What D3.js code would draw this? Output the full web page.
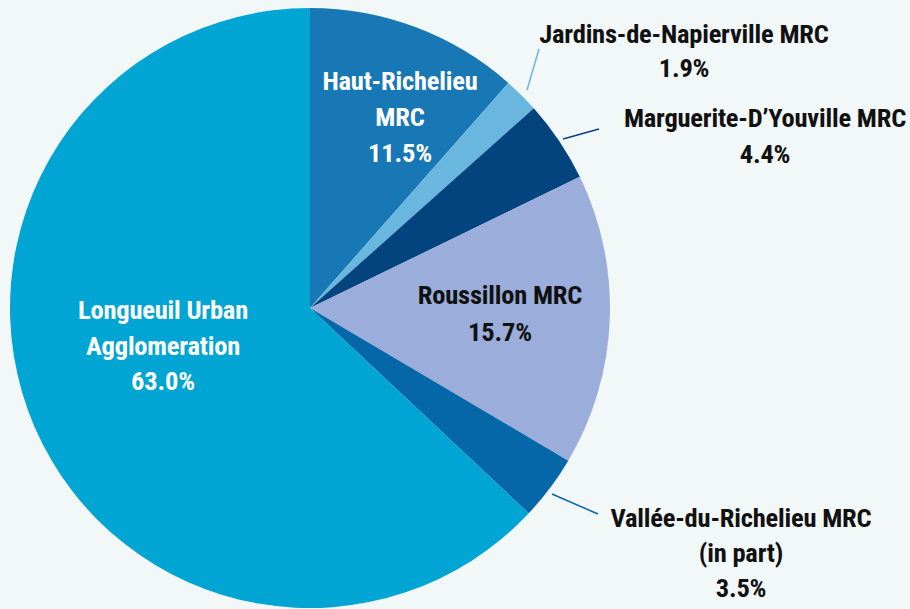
<!DOCTYPE html>
<html>
<head>
<meta charset="utf-8">
<script src="https://cdn.jsdelivr.net/npm/d3@7"></script>
<style>
  html, body { margin: 0; padding: 0; background: #f2f7f8; }
  svg text { font-family: "Roboto Condensed", "Liberation Sans Narrow", "DejaVu Sans Condensed", sans-serif; font-weight: bold; font-size: 26.5px; letter-spacing: -0.2px; }
</style>
</head>
<body>
<div class="pieContainer"></div>
<script>
var regions = ["Haut-Richelieu MRC", "Jardins-de-Napierville MRC", "Marguerite-D\u2019Youville MRC",
               "Roussillon MRC", "Vall\u00e9e-du-Richelieu MRC (in part)", "Longueuil Urban Agglomeration"];
var shares = [11.5, 1.9, 4.4, 15.7, 3.5, 63.0];
var labelLines = [
    ["Haut-Richelieu", "MRC", "11.5%"],
    ["Jardins-de-Napierville MRC", "1.9%"],
    ["Marguerite-D\u2019Youville MRC", "4.4%"],
    ["Roussillon MRC", "15.7%"],
    ["Vall\u00e9e-du-Richelieu MRC", "(in part)", "3.5%"],
    ["Longueuil Urban", "Agglomeration", "63.0%"]
];
var colors = ["#1878b5", "#69b7de", "#03447f", "#9aaddb", "#0567a8", "#00a5d4"];

var width = 910, height = 609;
var cx = 310, cy = 308, radius = 300;

// label placement: x centre and first baseline, outside ones get a leader line
var labelCfg = [
    { x: 400, y: 90, gap: 36, fill: "#ffffff" },
    { x: 684, y: 43, gap: 34, fill: "#111111", lead: [[527, 90], [539, 49]] },
    { x: 765, y: 127, gap: 36, fill: "#111111", lead: [[563, 139], [599, 129]] },
    { x: 500, y: 304, gap: 37, fill: "#111111" },
    { x: 741, y: 527, gap: 35, fill: "#111111", lead: [[552, 494], [598, 514]] },
    { x: 163, y: 319, gap: 35.5, fill: "#ffffff" }
];

var svg = d3.select(".pieContainer")
    .append("svg")
    .attr("width", width)
    .attr("height", height);

var pie = d3.pie().sort(null).value(function (d) { return d; });
var arc = d3.arc().innerRadius(0).outerRadius(radius);

var g = svg.append("g").attr("transform", "translate(" + cx + "," + cy + ")");

g.selectAll("path")
    .data(pie(shares))
    .enter()
    .append("path")
    .attr("d", arc)
    .attr("fill", function (d, i) { return colors[i]; });

labelCfg.forEach(function (c, i) {
    if (!c.lead) return;
    svg.append("line")
        .attr("x1", c.lead[0][0])
        .attr("y1", c.lead[0][1])
        .attr("x2", c.lead[1][0])
        .attr("y2", c.lead[1][1])
        .attr("stroke", colors[i])
        .attr("stroke-width", 1.5);
});

var labels = svg.selectAll("text.lbl")
    .data(labelLines)
    .enter()
    .append("text")
    .attr("class", "lbl")
    .attr("text-anchor", "middle")
    .attr("fill", function (d, i) { return labelCfg[i].fill; });

labels.each(function (lines, i) {
    var t = d3.select(this);
    lines.forEach(function (s, j) {
        t.append("tspan")
            .attr("x", labelCfg[i].x)
            .attr("y", labelCfg[i].y + j * labelCfg[i].gap)
            .text(s);
    });
});
</script>
</body>
</html>
